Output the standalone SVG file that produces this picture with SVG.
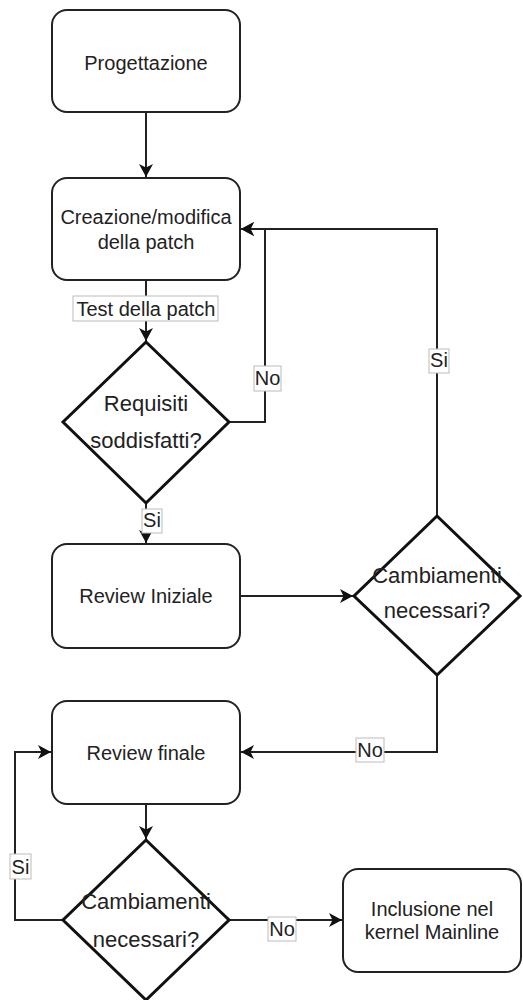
<svg xmlns="http://www.w3.org/2000/svg" width="523" height="1000" viewBox="0 0 523 1000">
<defs>
<marker id="arr" markerUnits="userSpaceOnUse" markerWidth="16" markerHeight="16" refX="13" refY="7" orient="auto">
<path d="M0,0 L13,7 L0,14 L3.5,7 Z" fill="#111"/>
</marker>
<style>
.box{fill:#fff;stroke:#222;stroke-width:2}
.dia{fill:#fff;stroke:#111;stroke-width:3}
.t{font-family:"Liberation Sans",Arial,sans-serif;font-size:20px;fill:#222;text-anchor:middle}
.td{font-family:"Liberation Sans",Arial,sans-serif;font-size:22px;fill:#222;text-anchor:middle}
.e{fill:none;stroke:#222;stroke-width:2;marker-end:url(#arr)}
.lb{fill:#fff;stroke:#bbb;stroke-width:1}
</style>
</defs>
<rect width="523" height="1000" fill="#fff"/>
<g id="connectors">
<path class="e" d="M146,112 V177"/>
<path class="e" d="M146,280 V341"/>
<path class="e" d="M229,422 H265 V229 H241"/>
<path class="e" d="M146,503 V543"/>
<path class="e" d="M240,596 H353"/>
<path class="e" d="M437,516 V229 H241"/>
<path class="e" d="M437,675 V752 H241"/>
<path class="e" d="M146,804 V839"/>
<path class="e" d="M63,920 H15 V752 H51"/>
<path class="e" d="M229,920 H342"/>
<rect class="lb" x="73" y="296" width="145" height="25"/>
<text class="t" x="146" y="316">Test della patch</text>
<rect class="lb" x="254" y="366" width="27" height="25"/>
<text class="t" x="267.5" y="385">No</text>
<rect class="lb" x="429" y="349" width="20" height="24"/>
<text class="t" x="439" y="367">Si</text>
<rect class="lb" x="142" y="509" width="20" height="24"/>
<text class="t" x="152" y="527">Si</text>
<rect class="lb" x="356" y="738" width="28" height="24"/>
<text class="t" x="370" y="757">No</text>
<rect class="lb" x="10" y="854" width="21" height="25"/>
<text class="t" x="20.5" y="874">Si</text>
<rect class="lb" x="268" y="917" width="28" height="24"/>
<text class="t" x="282" y="936">No</text>
</g>
<g id="progettazione">
<rect class="box" x="52" y="10" width="188" height="102" rx="15"/>
<text class="t" x="146" y="70">Progettazione</text>
</g>
<g id="creazione">
<rect class="box" x="52" y="178" width="188" height="102" rx="15"/>
<text class="t" x="146" y="224">Creazione/modifica</text>
<text class="t" x="146" y="249">della patch</text>
</g>
<g id="requisiti">
<polygon class="dia" points="146,342 229,422 146,503 63,422"/>
<text class="td" x="146" y="411">Requisiti</text>
<text class="td" x="146" y="448">soddisfatti?</text>
</g>
<g id="review-iniziale">
<rect class="box" x="52" y="544" width="188" height="104" rx="15"/>
<text class="t" x="146" y="603">Review Iniziale</text>
</g>
<g id="cambiamenti1">
<polygon class="dia" points="437,516 520,596 437,675 354,596"/>
<text class="td" x="437" y="583">Cambiamenti</text>
<text class="td" x="437" y="618">necessari?</text>
</g>
<g id="review-finale">
<rect class="box" x="52" y="701" width="188" height="103" rx="15"/>
<text class="t" x="146" y="760">Review finale</text>
</g>
<g id="cambiamenti2">
<polygon class="dia" points="146,840 229,920 146,1000 63,920"/>
<text class="td" x="146" y="909">Cambiamenti</text>
<text class="td" x="146" y="947">necessari?</text>
</g>
<g id="inclusione">
<rect class="box" x="343" y="869" width="178" height="103" rx="15"/>
<text class="t" x="432" y="916">Inclusione nel</text>
<text class="t" x="432" y="939">kernel Mainline</text>
</g>
</svg>
